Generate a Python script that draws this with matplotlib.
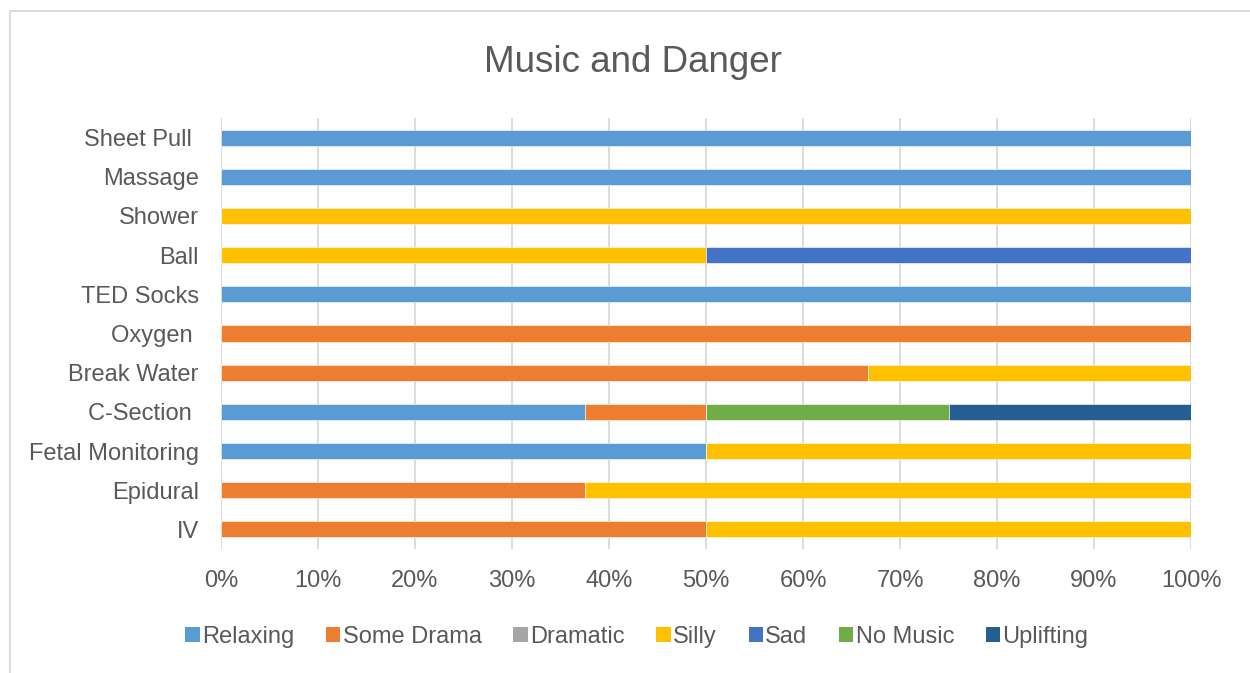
import numpy as np
import matplotlib.pyplot as plt
from matplotlib.patches import Patch, Rectangle

plt.rcParams['font.family'] = ['Liberation Sans', 'DejaVu Sans']

# bottom to top, as drawn on the axis
categories = ['IV', 'Epidural', 'Fetal Monitoring', 'C-Section ',
              'Break Water', 'Oxygen ', 'TED Socks', 'Ball', 'Shower',
              'Massage', 'Sheet Pull ']
series = ['Relaxing', 'Some Drama', 'Dramatic', 'Silly', 'Sad',
          'No Music', 'Uplifting']
relaxing   = [0, 0, 1, 3, 0, 0, 1, 0, 0, 1, 1]
some_drama = [1, 3, 0, 1, 2, 1, 0, 0, 0, 0, 0]
dramatic   = [0, 0, 0, 0, 0, 0, 0, 0, 0, 0, 0]
silly      = [1, 5, 1, 0, 1, 0, 0, 1, 1, 0, 0]
sad        = [0, 0, 0, 0, 0, 0, 0, 1, 0, 0, 0]
no_music   = [0, 0, 0, 2, 0, 0, 0, 0, 0, 0, 0]
uplifting  = [0, 0, 0, 2, 0, 0, 0, 0, 0, 0, 0]
colours = ['#5B9BD5', '#ED7D31', '#A5A5A5', '#FFC000', '#4472C4',
           '#70AD47', '#255E91']

counts = np.array([relaxing, some_drama, dramatic, silly, sad,
                   no_music, uplifting], dtype=float)
shares = counts/counts.sum(axis=0)

text_c = '#595959'
grid_c = '#D9D9D9'

fig = plt.figure(figsize=(12.5, 6.73), dpi=100)
ax = fig.add_axes([221/1250, 1-549/673, 970/1250, 431/673])

y = np.arange(len(categories))
left = np.zeros(len(categories))
for name, vals, c in zip(series, shares, colours):
    ax.barh(y, vals, left=left, height=0.41, color=c,
            edgecolor='white', linewidth=0.4, zorder=3)
    left += vals

ax.set_xlim(0, 1)
ax.set_ylim(-0.5, len(categories)-0.5)
ax.set_xticks(np.arange(0, 1.01, 0.1))
ax.set_xticklabels([f'{int(round(t*100))}%' for t in np.arange(0, 1.01, 0.1)])
ax.set_yticks(y)
ax.set_yticklabels(categories)
ax.tick_params(axis='both', length=0, labelsize=17, colors=text_c)
ax.tick_params(axis='y', pad=16)
ax.tick_params(axis='x', pad=15)
ax.grid(axis='x', color=grid_c, linewidth=1.3, zorder=0)
for s in ax.spines.values():
    s.set_visible(False)

fig.text(633/1250, 1-62/673, 'Music and Danger', fontsize=26.5,
         color=text_c, ha='center', va='center')

handles = [Patch(facecolor=c, edgecolor='none') for c in colours]
leg = fig.legend(handles, series, loc='center', ncol=7,
                 bbox_to_anchor=(637/1250, 1-637/673), frameon=False,
                 fontsize=17, handlelength=0.6, handleheight=0.6,
                 handletextpad=0.1, columnspacing=1.35)
for t in leg.get_texts():
    t.set_color(text_c)

# chart outer border (left and top visible)
fig.patches.append(Rectangle((9.5/1250, -0.1), 2, 1-11/673+0.1,
                             transform=fig.transFigure, fill=False,
                             edgecolor=grid_c, linewidth=1.3))

fig.savefig('out.png', dpi=100)
